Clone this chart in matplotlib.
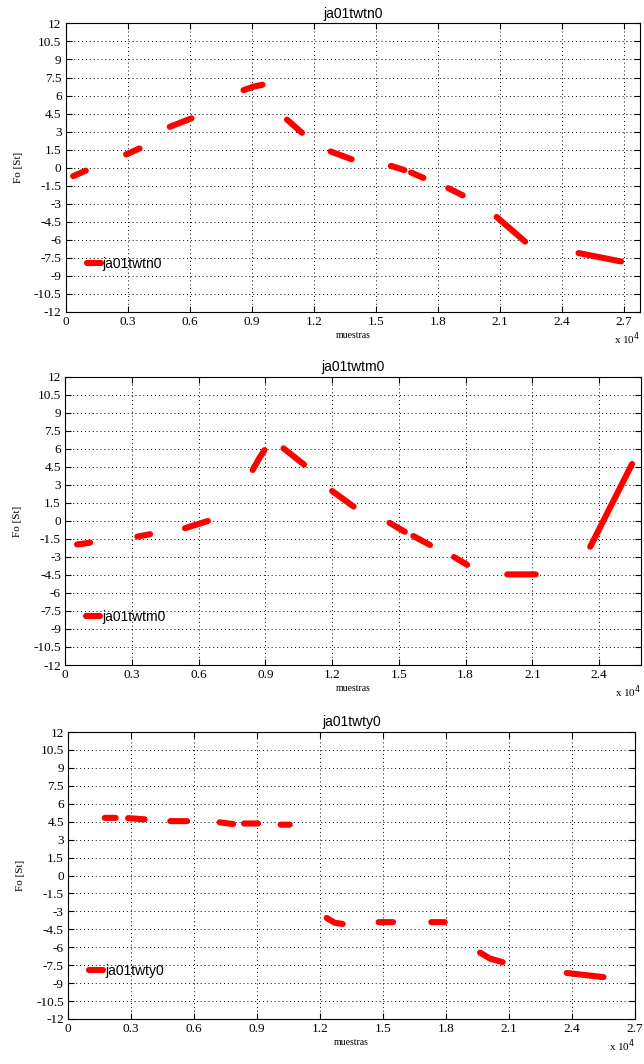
import numpy as np
import matplotlib.pyplot as plt
from matplotlib.ticker import FixedLocator, FuncFormatter

# segments (x in samples, y in St)
tn0_x = [[360, 970], [2920, 3570], [5030, 6080], [8600, 9100, 9520], [10700, 11430],
         [12810, 13830], [15730, 16380], [16700, 17300], [18500, 19200],
         [20840, 22220], [24800, 26860]]
tn0_y = [[-0.7, -0.25], [1.1, 1.6], [3.4, 4.1], [6.45, 6.75, 6.9], [4.0, 2.9],
         [1.35, 0.7], [0.15, -0.2], [-0.4, -0.85], [-1.7, -2.3],
         [-4.1, -6.15], [-7.1, -7.8]]

tm0_x = [[540, 800, 1130], [3250, 3820], [5390, 6420], [8430, 8750, 8960], [9820, 10740],
         [12000, 12970], [14580, 15270], [15650, 16400], [17480, 18070],
         [19870, 21150], [23600, 25480]]
tm0_y = [[-1.95, -1.9, -1.8], [-1.3, -1.1], [-0.6, 0.0], [4.25, 5.3, 5.9], [6.05, 4.7],
         [2.5, 1.2], [-0.15, -0.9], [-1.25, -2.0], [-3.0, -3.65],
         [-4.45, -4.45], [-2.15, 4.75]]

ty0_x = [[1750, 2270], [2860, 3650], [4870, 5670], [7220, 7860], [8380, 9050],
         [10130, 10560], [12320, 12700, 13080], [14790, 15480], [17300, 17940],
         [19620, 20100, 20700], [23750, 25500]]
ty0_y = [[4.82, 4.82], [4.8, 4.7], [4.55, 4.55], [4.45, 4.3], [4.35, 4.35],
         [4.25, 4.25], [-3.55, -3.95, -4.05], [-3.9, -3.9], [-3.9, -3.9],
         [-6.45, -6.95, -7.25], [-8.15, -8.5]]

names = ["ja01twtn0", "ja01twtm0", "ja01twty0"]
xmaxs = [27780, 25900, 27000]
xticks = [0, 3000, 6000, 9000, 12000, 15000, 18000, 21000, 24000, 27000]
yticks = [12, 10.5, 9, 7.5, 6, 4.5, 3, 1.5, 0, -1.5, -3, -4.5, -6, -7.5, -9, -10.5, -12]

panels = [(tn0_x, tn0_y), (tm0_x, tm0_y), (ty0_x, ty0_y)]
positions = [[0.102, 0.7068, 0.892, 0.2712],
             [0.101, 0.375, 0.895, 0.2707],
             [0.1056, 0.0423, 0.8804, 0.2697]]


def join(segs):
    out = []
    for s in segs:
        out += list(s) + [np.nan]
    return np.array(out, dtype=float)


fig = plt.figure(figsize=(6.44, 10.64), dpi=100)
serif = "Liberation Serif"
sans = "Liberation Sans"

for (sx, sy), name, xmax, pos in zip(panels, names, xmaxs, positions):
    ax = fig.add_axes(pos)
    ax.plot(join(sx), join(sy), color="red", lw=4.4, solid_capstyle="round", label=name)
    ax.set_xlim(0, xmax)
    ax.set_ylim(-12, 12)
    ax.xaxis.set_major_locator(FixedLocator([t for t in xticks if t <= xmax]))
    ax.xaxis.set_major_formatter(FuncFormatter(lambda v, p: "%g" % round(v / 1e4, 2)))
    ax.set_yticks(yticks)
    ax.yaxis.set_major_formatter(FuncFormatter(lambda v, p: "%g" % v))
    ax.grid(True, color="black", linestyle=(0, (1, 3)), lw=0.7)
    ax.tick_params(direction="in", top=True, right=True, length=4, width=0.8,
                   labelsize=9.5, pad=3)
    for lab in ax.get_xticklabels() + ax.get_yticklabels():
        lab.set_fontfamily(serif)
    for sp in ax.spines.values():
        sp.set_linewidth(0.8)
    ax.set_title(name, fontsize=10, family=sans, pad=4)
    ax.set_ylabel("Fo [St]", fontsize=8, family=serif, labelpad=8)
    ax.set_xlabel("muestras", fontsize=7, family=serif, labelpad=2)
    ax.text(1.0, -0.065, r"x 10$^4$", transform=ax.transAxes, ha="right", va="top",
            fontsize=8, family=serif)
    ax.legend(loc="lower left", bbox_to_anchor=(0.02, 0.11), frameon=False,
              handlelength=1.0, handletextpad=0.15, borderaxespad=0.3,
              prop={"family": sans, "size": 10})

fig.savefig("out.png", dpi=100)
